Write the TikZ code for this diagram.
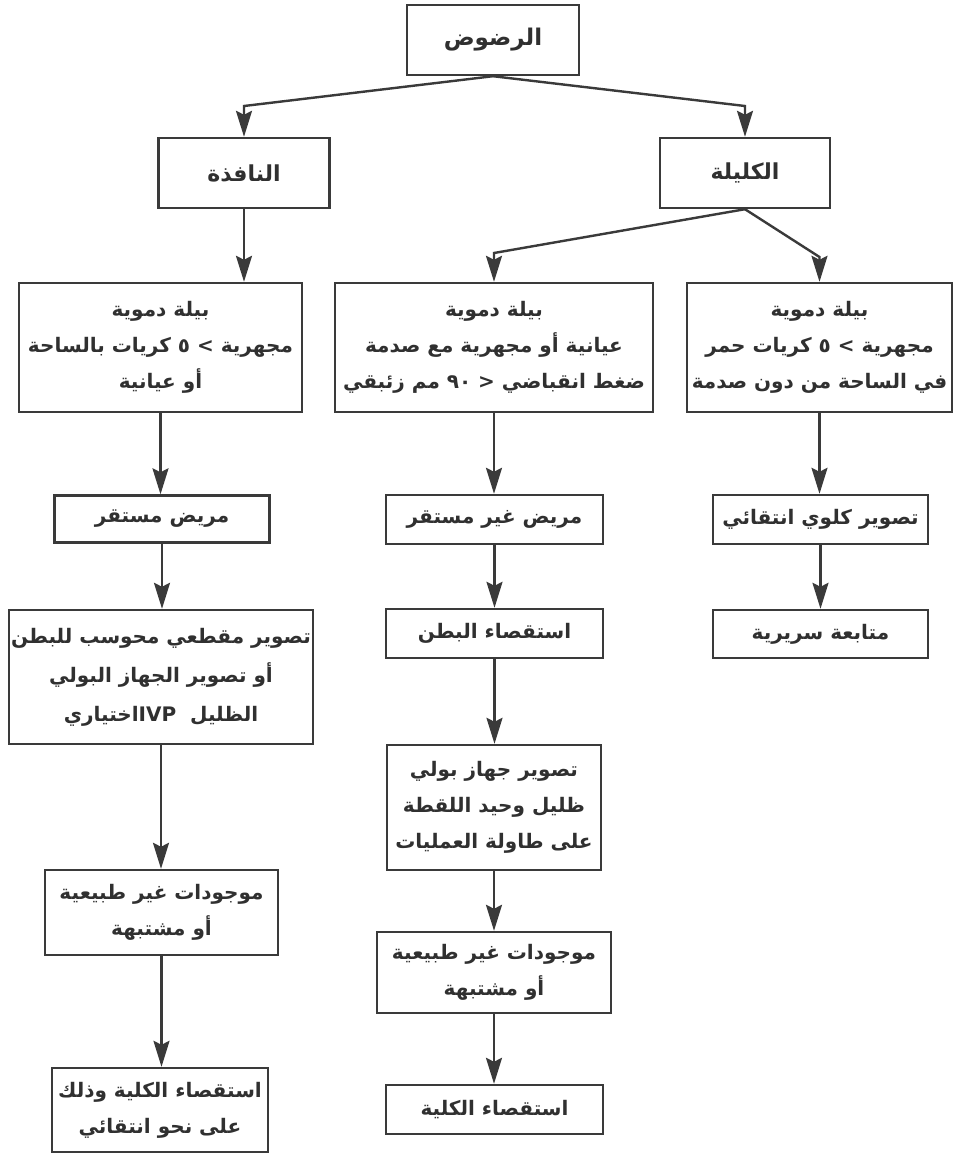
\documentclass[tikz,border=0pt]{standalone}
\usepackage{fontspec}
\usetikzlibrary{arrows.meta,calc}
\TeXXeTstate=1
\newfontfamily\arabicfont[Script=Arabic]{DejaVu Sans}
\newcommand\rl[1]{\beginR #1\endR}
\definecolor{ink}{HTML}{3A3A3A}
\definecolor{txt}{HTML}{303030}
\begin{document}
\begin{tikzpicture}[x=1pt,y=-1pt,
  box/.style={draw=ink,line width=2.4pt,fill=white,align=center,inner sep=0pt,
    font=\arabicfont\bfseries\fontsize{20}{36}\selectfont,text=txt},
  arr/.style={draw=ink,line width=2.4pt,-{Stealth[length=26pt,width=16pt,inset=4pt]}}]
\useasboundingbox[fill=white] (0,0) rectangle (959,1163);
% row 0
\node[box,minimum width=172pt,minimum height=70pt,font=\arabicfont\bfseries\fontsize{23}{36}\selectfont] (top) at (493,40) {\rl{الرضوض}};
% row 1
\node[box,minimum width=171pt,minimum height=70pt,font=\arabicfont\bfseries\fontsize{22}{36}\selectfont] (naf) at (244,173) {\rl{النافذة}};
\node[box,minimum width=170pt,minimum height=70pt,font=\arabicfont\bfseries\fontsize{22}{36}\selectfont] (kal) at (745,173) {\rl{الكليلة}};
% row 2
\node[box,minimum width=283pt,minimum height=129pt] (L1) at (160.5,347.5)
  {\rl{بيلة دموية}\\\rl{مجهرية > ٥ كريات بالساحة}\\\rl{أو عيانية}};
\node[box,minimum width=318pt,minimum height=129pt] (M1) at (494,347.5)
  {\rl{بيلة دموية}\\\rl{عيانية أو مجهرية مع صدمة}\\\rl{ضغط انقباضي < ٩٠ مم زئبقي}};
\node[box,minimum width=265pt,minimum height=129pt] (R1) at (819.5,347.5)
  {\rl{بيلة دموية}\\\rl{مجهرية > ٥ كريات حمر}\\\rl{في الساحة من دون صدمة}};
% left column
\node[box,minimum width=215pt,minimum height=47pt] (L2) at (162,519) {\rl{مريض مستقر}};
\node[box,minimum width=304pt,minimum height=134pt,font=\arabicfont\bfseries\fontsize{20}{39}\selectfont] (L3) at (161,677)
  {\rl{تصوير مقطعي محوسب للبطن}\\\rl{أو تصوير الجهاز البولي}\\\rl{الظليل\ \ IVP\kern0pt اختياري}};
\node[box,minimum width=233pt,minimum height=85pt] (L4) at (161.5,912.5)
  {\rl{موجودات غير طبيعية}\\\rl{أو مشتبهة}};
\node[box,minimum width=216pt,minimum height=84pt] (L5) at (160,1110)
  {\rl{استقصاء الكلية وذلك}\\\rl{على نحو انتقائي}};
% middle column
\node[box,minimum width=217pt,minimum height=49pt] (M2) at (494.5,519.5) {\rl{مريض غير مستقر}};
\node[box,minimum width=217pt,minimum height=49pt] (M3) at (494.5,633.5) {\rl{استقصاء البطن}};
\node[box,minimum width=214pt,minimum height=125pt] (M4) at (494,807.5)
  {\rl{تصوير جهاز بولي}\\\rl{ظليل وحيد اللقطة}\\\rl{على طاولة العمليات}};
\node[box,minimum width=234pt,minimum height=81pt] (M5) at (494,972.5)
  {\rl{موجودات غير طبيعية}\\\rl{أو مشتبهة}};
\node[box,minimum width=217pt,minimum height=49pt] (M6) at (494.5,1109.5) {\rl{استقصاء الكلية}};
% right column
\node[box,minimum width=215pt,minimum height=49pt] (R2) at (820.5,519.5) {\rl{تصوير كلوي انتقائي}};
\node[box,minimum width=215pt,minimum height=48pt] (R3) at (820.5,634) {\rl{متابعة سريرية}};
% bend points
\coordinate (b1) at (244,106);
\coordinate (b2) at (745,106);
\coordinate (b3) at (494,253);
\coordinate (b4) at (819.5,257);
% connectors
\draw[arr] (top.south) -- (b1) -- (naf.north);
\draw[arr] (top.south) -- (b2) -- (kal.north);
\draw[arr] (naf.south) -- (naf.south |- L1.north);
\draw[arr] (kal.south) -- (b3) -- (M1.north);
\draw[arr] (kal.south) -- (b4) -- (R1.north);
\draw[arr] (L1.south) -- (L1.south |- L2.north);
\draw[arr] (L2.south) -- (L2.south |- L3.north);
\draw[arr] (L3.south) -- (L3.south |- L4.north);
\draw[arr] (L4.south) -- (L4.south |- L5.north);
\draw[arr] (M1.south) -- (M1.south |- M2.north);
\draw[arr] (M2.south) -- (M2.south |- M3.north);
\draw[arr] (M3.south) -- (M3.south |- M4.north);
\draw[arr] (M4.south) -- (M4.south |- M5.north);
\draw[arr] (M5.south) -- (M5.south |- M6.north);
\draw[arr] (R1.south) -- (R1.south |- R2.north);
\draw[arr] (R2.south) -- (R2.south |- R3.north);
\end{tikzpicture}
\end{document}
